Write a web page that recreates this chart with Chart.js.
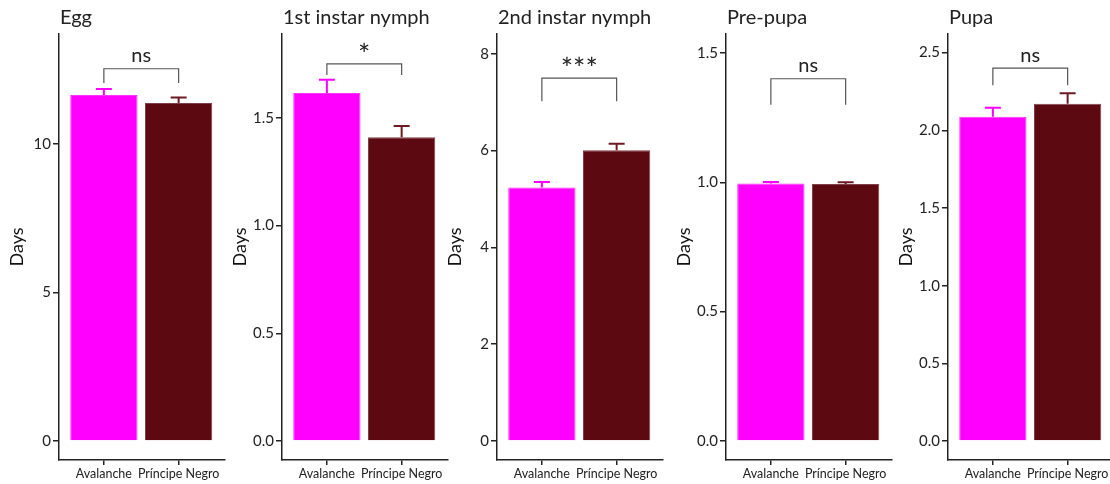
<!DOCTYPE html>
<html>
<head>
<meta charset="utf-8">
<script src="https://cdn.jsdelivr.net/npm/chart.js@4.4.1/dist/chart.umd.min.js"></script>
<style>
  html, body { margin: 0; padding: 0; background: #fff; }
  body { width: 1110px; height: 484px; position: relative; overflow: hidden; }
  canvas { position: absolute; top: 0; }
</style>
</head>
<body>
<canvas id="c0"></canvas>
<canvas id="c1"></canvas>
<canvas id="c2"></canvas>
<canvas id="c3"></canvas>
<canvas id="c4"></canvas>
<script>
// Development time per stage, two cultivars (mean and mean + SE)
const categories = ['Avalanche', 'Príncipe Negro'];
const stageTitles = ['Egg', '1st instar nymph', '2nd instar nymph', 'Pre-pupa', 'Pupa'];

const meanAvalanche = [11.65, 1.616, 5.24, 0.995, 2.088];
const meanPrincipe  = [11.38, 1.41, 6.01, 0.993, 2.171];
const errTopAvalanche = [11.85, 1.677, 5.35, 1.001, 2.146];
const errTopPrincipe  = [11.56, 1.463, 6.14, 1.000, 2.238];

const yMaxes = [13.7, 1.89, 8.41, 1.573, 2.62];
const yTickValues = [
  [0, 5, 10],
  [0, 0.5, 1.0, 1.5],
  [0, 2, 4, 6, 8],
  [0, 0.5, 1.0, 1.5],
  [0, 0.5, 1.0, 1.5, 2.0, 2.5]
];
const yTickDecimals = [0, 1, 0, 1, 1];

const sigLabels = ['ns', '*', '***', 'ns', 'ns'];
const bracketTop = [12.53, 1.751, 7.5, 1.40, 2.40];
const bracketEnd = [12.05, 1.70, 7.02, 1.30, 2.29];

// Layout
const axisX = [59, 282, 497, 726, 948];
const yAxisWidth = 59;
const plotWidth = 166;
const chartTop = 34;
const chartBottom = 460;
const zeroOffsetPx = 19;

const colors = ['#ff00ff', '#5c0911'];
const borderColors = ['#ff33ff', '#80404a'];
const errColors = ['#ff00ff', '#6e1a24'];
const FONT = 'Lato, "Open Sans", sans-serif';

const overlayPlugin = {
  id: 'overlay',
  afterDatasetsDraw(chart) {
    const i = chart.options.plugins.overlay.panel;
    const ctx = chart.ctx;
    const x = chart.scales.x;
    const y = chart.scales.y;
    const area = chart.chartArea;

    // error bars
    const tops = [errTopAvalanche[i], errTopPrincipe[i]];
    const means = [meanAvalanche[i], meanPrincipe[i]];
    ctx.save();
    ctx.lineWidth = 2;
    for (let k = 0; k < 2; k++) {
      const cx = x.getPixelForValue(k);
      const yt = y.getPixelForValue(tops[k]);
      const ym = y.getPixelForValue(means[k]);
      ctx.strokeStyle = errColors[k];
      ctx.beginPath();
      ctx.moveTo(cx, ym);
      ctx.lineTo(cx, yt);
      ctx.moveTo(cx - 8, yt);
      ctx.lineTo(cx + 8, yt);
      ctx.stroke();
    }

    // significance bracket
    const x0 = x.getPixelForValue(0);
    const x1 = x.getPixelForValue(1);
    const bt = y.getPixelForValue(bracketTop[i]);
    const be = y.getPixelForValue(bracketEnd[i]);
    ctx.strokeStyle = '#555';
    ctx.lineWidth = 1.2;
    ctx.beginPath();
    ctx.moveTo(x0, be);
    ctx.lineTo(x0, bt);
    ctx.lineTo(x1, bt);
    ctx.lineTo(x1, be);
    ctx.stroke();

    ctx.fillStyle = '#222';
    ctx.textAlign = 'center';
    if (sigLabels[i] === 'ns') {
      ctx.font = '20px ' + FONT;
      ctx.textBaseline = 'bottom';
      ctx.fillText(sigLabels[i], (x0 + x1) / 2, bt - 3);
    } else {
      ctx.font = '29px ' + FONT;
      ctx.textBaseline = 'middle';
      ctx.fillText(sigLabels[i], (x0 + x1) / 2, bt - 8);
    }

    // panel title
    ctx.font = '20px ' + FONT;
    ctx.textAlign = 'left';
    ctx.textBaseline = 'middle';
    ctx.fillText(stageTitles[i], area.left + 1, 18);
    ctx.restore();
  }
};

function buildPanel(i) {
  const canvas = document.getElementById('c' + i);
  const left = axisX[i] - yAxisWidth;
  const width = yAxisWidth + plotWidth + 4;
  canvas.width = width;
  canvas.height = 484;
  canvas.style.left = left + 'px';
  canvas.style.width = width + 'px';
  canvas.style.height = '484px';

  const yMax = yMaxes[i];
  const yMin = -yMax * zeroOffsetPx / (chartBottom - chartTop - zeroOffsetPx);

  return new Chart(canvas.getContext('2d'), {
    type: 'bar',
    data: {
      datasets: [{
        data: [
          { x: 0, y: meanAvalanche[i] },
          { x: 1, y: meanPrincipe[i] }
        ],
        backgroundColor: colors,
        borderColor: borderColors,
        borderWidth: 1,
        barPercentage: 0.9,
        categoryPercentage: 1
      }]
    },
    options: {
      responsive: false,
      animation: false,
      layout: { padding: { top: chartTop, right: 4, bottom: 0, left: 0 } },
      plugins: {
        legend: { display: false },
        tooltip: { enabled: false },
        overlay: { panel: i }
      },
      scales: {
        x: {
          type: 'linear',
          min: -0.6,
          max: 1.62,
          offset: false,
          afterBuildTicks: (scale) => { scale.ticks = [{ value: 0 }, { value: 1 }]; },
          afterFit: (scale) => { scale.height = 484 - chartBottom; },
          border: { display: true, color: '#222', width: 1.5 },
          grid: { display: true, offset: false, drawOnChartArea: false, drawTicks: true, tickLength: 5, color: '#222', lineWidth: 1.5 },
          ticks: {
            padding: 1,
            color: '#222',
            font: { family: FONT, size: 12.5 },
            maxRotation: 0,
            autoSkip: false,
            callback: (v) => categories[v]
          }
        },
        y: {
          min: yMin,
          max: yMax,
          afterBuildTicks: (scale) => { scale.ticks = yTickValues[i].map(v => ({ value: v })); },
          afterFit: (scale) => { scale.width = yAxisWidth; },
          border: { display: true, color: '#222', width: 1.5 },
          grid: { display: true, drawOnChartArea: false, drawTicks: true, tickLength: 6, color: '#222', lineWidth: 1.5 },
          ticks: {
            padding: 2,
            color: '#222',
            font: { family: FONT, size: 15 },
            callback: (v) => Number(v).toFixed(yTickDecimals[i])
          },
          title: {
            display: true,
            text: 'Days',
            color: '#111',
            font: { family: FONT, size: 18 },
            padding: { top: 6, bottom: 0 }
          }
        }
      }
    },
    plugins: [overlayPlugin]
  });
}

const charts = [0, 1, 2, 3, 4].map(buildPanel);
</script>
</body>
</html>
